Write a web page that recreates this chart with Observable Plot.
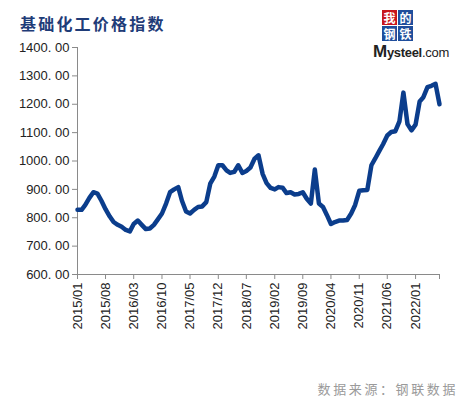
<!DOCTYPE html>
<html><head><meta charset="utf-8">
<script src="https://cdn.jsdelivr.net/npm/d3@7"></script>
<script src="https://cdn.jsdelivr.net/npm/@observablehq/plot@0.6"></script>
<style>
body{margin:0;background:#fff;}
#wrap{position:relative;width:463px;height:397px;overflow:hidden;font-family:"Liberation Sans",Arial,sans-serif;}
#title{position:absolute;left:20px;top:11px;font:bold 16px "Noto Sans CJK SC",sans-serif;letter-spacing:2.2px;color:#1f3c78;white-space:nowrap;}
#logo{position:absolute;left:372px;top:9px;width:78px;height:56px;}
.sq{position:absolute;width:15px;height:15px;overflow:hidden;color:#fff;font:bold 12px/15px "Noto Sans CJK SC",sans-serif;text-align:center;}
#brand{position:absolute;left:1px;top:33px;font:bold 13px "Liberation Sans",Arial,sans-serif;color:#222;letter-spacing:-0.3px;white-space:nowrap;}
#caption{position:absolute;right:5px;top:379px;font:13px "Noto Sans CJK SC",sans-serif;letter-spacing:2.6px;color:#9a9a9a;white-space:nowrap;}
#chart{position:absolute;left:0;top:0;}
</style></head><body>
<div id="wrap">
<div id="chart"></div>
<div id="title">基础化工价格指数</div>
<div id="logo">
  <div class="sq" style="left:10px;top:1px;background:#c8161d;">我</div>
  <div class="sq" style="left:26px;top:1px;background:#1f4e9c;">的</div>
  <div class="sq" style="left:10px;top:17px;background:#1f4e9c;">钢</div>
  <div class="sq" style="left:26px;top:17px;background:#1f4e9c;">铁</div>
  <div id="brand"><span style="font-size:17px">M</span>ysteel<span style="font-weight:normal">.com</span></div>
</div>
<div id="caption">数据来源：钢联数据</div>
</div>
<script>
// Monthly index values, 2015/01 .. 2022/07
const startMonth = "2015-01";
const values = [
  828, 828, 845, 870, 890, 885, 860, 830, 805, 785, 775, 768,   // 2015
  757, 752, 778, 790, 775, 760, 762, 775, 795, 815, 850, 890,   // 2016
  900, 908, 860, 822, 815, 828, 838, 840, 855, 920, 945, 985,   // 2017
  985, 967, 958, 962, 985, 958, 965, 977, 1008, 1020, 955, 922, // 2018
  905, 900, 908, 906, 887, 890, 882, 884, 890, 867, 850, 970,   // 2019
  850, 838, 810, 778, 785, 790, 790, 792, 815, 845, 895, 897,   // 2020
  898, 985, 1008, 1035, 1060, 1090, 1102, 1105, 1140, 1241, 1130, 1108, // 2021
  1128, 1210, 1225, 1260, 1265, 1272, 1200                      // 2022
];
const tickLabels = ["2015/01","2015/08","2016/03","2016/10","2017/05","2017/12","2018/07","2019/02","2019/09","2020/04","2020/11","2021/06","2022/01"];
const axisEnd = "2022/07";
const yTicks = [600, 700, 800, 900, 1000, 1100, 1200, 1300, 1400];

const parseYM = s => { const [y, m] = s.split(/[\/-]/).map(Number); return new Date(Date.UTC(y, m - 1, 1)); };
const start = parseYM(startMonth);
const data = values.map((v, i) => ({date: d3.utcMonth.offset(start, i), value: v}));
const tickDates = tickLabels.map(parseYM).concat([parseYM(axisEnd)]);
const labelFor = d => { const s = d3.utcFormat("%Y/%m")(d); return tickLabels.includes(s) ? s : ""; };

const plot = Plot.plot({
  width: 463, height: 397,
  marginLeft: 77, marginRight: 24, marginTop: 47, marginBottom: 123,
  style: {fontFamily: '"Liberation Sans", Arial, sans-serif', fontSize: "13px", color: "#222", background: "transparent"},
  x: {type: "utc", domain: [start, parseYM(axisEnd)]},
  y: {domain: [600, 1400]},
  marks: [
    Plot.ruleX([start], {stroke: "#8a8a8a", strokeWidth: 1}),
    Plot.ruleY([600], {stroke: "#8a8a8a", strokeWidth: 1}),
    Plot.axisY({ticks: yTicks, tickSize: 5, tickPadding: 3, tickFormat: d => d.toFixed(2).replace(".", ". "), stroke: "#8a8a8a", label: null, fill: "#222"}),
    Plot.axisX({ticks: tickDates, tickSize: 5, tickPadding: 3, tickRotate: -90, tickFormat: labelFor, stroke: "#8a8a8a", label: null, fill: "#222"}),
    Plot.line(data, {x: "date", y: "value", stroke: "#0b3d8c", strokeWidth: 4.5, strokeLinejoin: "round", strokeLinecap: "round"})
  ]
});
document.getElementById("chart").appendChild(plot);
</script>
</body></html>
